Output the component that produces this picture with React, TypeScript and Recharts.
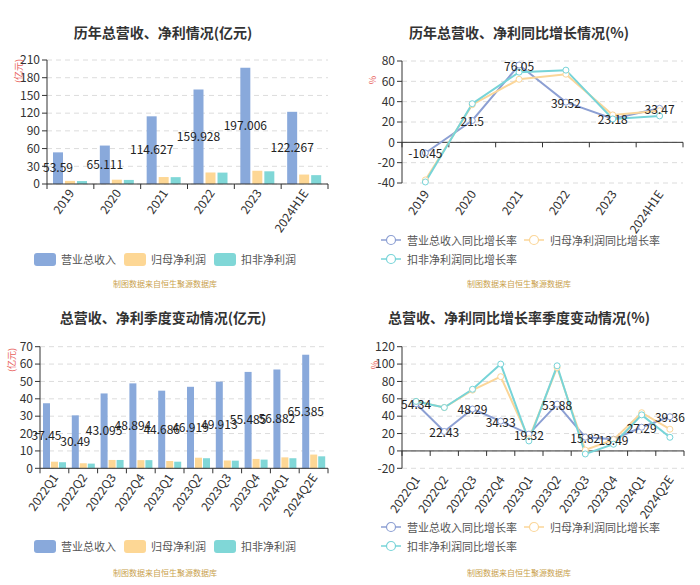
import React from "react";
import {
  BarChart,
  Bar,
  LineChart,
  Line,
  XAxis,
  YAxis,
  CartesianGrid,
  ReferenceLine,
  LabelList,
} from "recharts";

// annual
const years = ["2019", "2020", "2021", "2022", "2023", "2024H1E"];
const yearRevenue = [53.59, 65.111, 114.627, 159.928, 197.006, 122.267];
const yearNetProfit = [5.3, 7.3, 11.8, 19.5, 22.5, 16];
const yearDeducted = [5, 6.9, 11.6, 19.3, 21.5, 15];
const yearRevenueGrowth = [-10.45, 21.5, 76.05, 39.52, 23.18, 33.47];
const yearProfitGrowth = [-37, 37, 62, 67, 27, 31];
const yearDeductedGrowth = [-39, 38, 69, 71, 23, 26];

// quarterly
const quarters = ["2022Q1", "2022Q2", "2022Q3", "2022Q4", "2023Q1", "2023Q2", "2023Q3", "2023Q4", "2024Q1", "2024Q2E"];
const qRevenue = [37.45, 30.49, 43.095, 48.894, 44.686, 46.919, 49.913, 55.485, 56.882, 65.385];
const qNetProfit = [3.8, 2.9, 4.8, 4.7, 4.2, 6.1, 4.5, 5.4, 6.3, 7.9];
const qDeducted = [3.5, 2.7, 4.8, 4.7, 3.8, 5.8, 4.4, 5.0, 5.8, 6.9];
const qRevenueGrowth = [54.34, 22.43, 48.29, 34.33, 19.32, 53.88, 15.82, 13.49, 27.29, 39.36];
const qProfitGrowth = [57, 50, 70, 85.5, 14, 96, 1, 13, 44, 25];
const qDeductedGrowth = [57, 50, 71, 100, 11.5, 98, -3.5, 7.7, 41.5, 15.7];

const yearAmountTicks = [0, 30, 60, 90, 120, 150, 180, 210];
const yearGrowthTicks = [-40, -20, 0, 20, 40, 60, 80];
const qAmountTicks = [0, 10, 20, 30, 40, 50, 60, 70];
const qGrowthTicks = [-20, 0, 20, 40, 60, 80, 100, 120];

const barNames = ["营业总收入", "归母净利润", "扣非净利润"];
const lineNames = ["营业总收入同比增长率", "归母净利润同比增长率", "扣非净利润同比增长率"];
const barColors = ["#89a9db", "#fdd795", "#80d7d7"];
const lineColors = ["#8c9fd3", "#fbd699", "#77d4d8"];

const FONT = '"Noto Sans CJK SC", "Noto Sans", sans-serif';

const yearData = years.map((name, i) => ({
  name,
  rev: yearRevenue[i],
  profit: yearNetProfit[i],
  ded: yearDeducted[i],
  revG: yearRevenueGrowth[i],
  profitG: yearProfitGrowth[i],
  dedG: yearDeductedGrowth[i],
}));

const quarterData = quarters.map((name, i) => ({
  name,
  rev: qRevenue[i],
  profit: qNetProfit[i],
  ded: qDeducted[i],
  revG: qRevenueGrowth[i],
  profitG: qProfitGrowth[i],
  dedG: qDeductedGrowth[i],
}));

// x axis line with category-boundary ticks, drawn on the zero line
const axisShape = (count: number) => (props: any) => {
  const left = Math.min(props.x1, props.x2);
  const right = Math.max(props.x1, props.x2);
  const y = props.y1;
  const step = (right - left) / count;
  return (
    <g>
      <line x1={left} x2={right} y1={y} y2={y} stroke="#333" strokeWidth={1} />
      {Array.from({ length: count + 1 }).map((_, i) => (
        <line key={i} x1={left + i * step} x2={left + i * step} y1={y} y2={y + 5} stroke="#333" />
      ))}
    </g>
  );
};

const RotTick = (props: any) => {
  const { x, y, payload } = props;
  return (
    <g transform={`translate(${x},${y})`}>
      <text
        textAnchor="end"
        dominantBaseline="central"
        transform="rotate(-55)"
        fontSize={12}
        fill="#333"
        fontFamily={FONT}
      >
        {payload.value}
      </text>
    </g>
  );
};

const centerLabel = (p: any) => {
  const x = p.x ?? p.viewBox?.x;
  const y = p.y ?? p.viewBox?.y;
  if (x == null || y == null) return null;
  return (
    <text
      key={`lbl-${p.index}`}
      x={x}
      y={y}
      textAnchor="middle"
      dominantBaseline="central"
      fontSize={12}
      fill="#222"
      fontFamily={FONT}
    >
      {p.value}
    </text>
  );
};

const yTick = { fill: "#333", fontSize: 12, fontFamily: FONT };

function Title({ text, cx, cy }: { text: string; cx: number; cy: number }) {
  return (
    <div
      style={{
        position: "absolute",
        left: cx - 175,
        width: 350,
        top: cy - 10,
        lineHeight: "20px",
        textAlign: "center",
        fontSize: 14,
        fontWeight: "bold",
        color: "#333",
      }}
    >
      {text}
    </div>
  );
}

function Source({ cx, cy }: { cx: number; cy: number }) {
  return (
    <div
      style={{
        position: "absolute",
        left: cx - 100,
        width: 200,
        top: cy - 6,
        lineHeight: "12px",
        textAlign: "center",
        fontSize: 8,
        color: "#c99f4c",
      }}
    >
      制图数据来自恒生聚源数据库
    </div>
  );
}

function Unit({ text, cx, cy }: { text: string; cx: number; cy: number }) {
  return (
    <div
      style={{
        position: "absolute",
        left: cx,
        top: cy,
        transform: "translate(-50%, -50%) rotate(-90deg)",
        fontSize: 9,
        color: "#e8605a",
        whiteSpace: "nowrap",
        lineHeight: "10px",
      }}
    >
      {text}
    </div>
  );
}

function BarLegend({ left, cy }: { left: number; cy: number }) {
  return (
    <div
      style={{
        position: "absolute",
        left,
        top: cy - 8,
        height: 16,
        display: "flex",
        alignItems: "center",
        fontSize: 11,
        color: "#555",
        whiteSpace: "nowrap",
      }}
    >
      {barNames.map((n, i) => (
        <div key={n} style={{ display: "flex", alignItems: "center", marginRight: 8 }}>
          <div style={{ width: 22, height: 13, borderRadius: 3, background: barColors[i], marginRight: 5 }} />
          <span>{n}</span>
        </div>
      ))}
    </div>
  );
}

function LineItem({ i, left, cy }: { i: number; left: number; cy: number }) {
  return (
    <div
      style={{
        position: "absolute",
        left,
        top: cy - 8,
        height: 16,
        display: "flex",
        alignItems: "center",
        fontSize: 11,
        color: "#555",
        whiteSpace: "nowrap",
      }}
    >
      <svg width={20} height={12} style={{ marginRight: 6 }}>
        <line x1={0} x2={20} y1={6} y2={6} stroke={lineColors[i]} strokeWidth={1.5} />
        <circle cx={10} cy={6} r={4.5} fill="#fff" stroke={lineColors[i]} strokeWidth={1.2} />
      </svg>
      <span>{lineNames[i]}</span>
    </div>
  );
}

function LineLegend({ row1, row2 }: { row1: number; row2: number }) {
  return (
    <>
      <LineItem i={0} left={381} cy={row1} />
      <LineItem i={1} left={524} cy={row1} />
      <LineItem i={2} left={381} cy={row2} />
    </>
  );
}

export default function App() {
  const dotStyle = (c: string) => ({ r: 3, fill: "#fff", stroke: c, strokeWidth: 1 });
  return (
    <div
      style={{
        position: "absolute",
        left: 0,
        top: 0,
        width: 700,
        height: 585,
        background: "#fff",
        fontFamily: FONT,
        overflow: "hidden",
      }}
    >
      <Title text="历年总营收、净利情况(亿元)" cx={163} cy={32} />
      <Title text="历年总营收、净利同比增长情况(%)" cx={519} cy={32} />
      <Title text="总营收、净利季度变动情况(亿元)" cx={163} cy={317} />
      <Title text="总营收、净利同比增长率季度变动情况(%)" cx={519} cy={317} />

      <Unit text="(亿元)" cx={19} cy={71} />
      <Unit text="%" cx={373} cy={80} />
      <Unit text="(亿元)" cx={12} cy={360} />
      <Unit text="%" cx={375} cy={365} />

      {/* annual amounts */}
      <div style={{ position: "absolute", left: 0, top: 0 }}>
        <BarChart
          width={350}
          height={240}
          data={yearData}
          margin={{ top: 60, right: 22, left: 0, bottom: 0 }}
          barSize={10}
          barGap={2}
        >
          <CartesianGrid vertical={false} stroke="#dcdcdc" strokeDasharray="5 4" />
          <XAxis
            dataKey="name"
            interval={0}
            height={56}
            axisLine={false}
            tickLine={false}
            tickSize={0}
            tickMargin={6}
            tick={<RotTick />}
          />
          <YAxis
            domain={[0, 210]}
            ticks={yearAmountTicks}
            interval={0}
            width={47}
            tick={yTick}
            axisLine={{ stroke: "#333" }}
            tickLine={{ stroke: "#333" }}
            tickSize={5}
            tickMargin={2}
          />
          <Bar dataKey="rev" fill={barColors[0]} isAnimationActive={false}>
            <LabelList dataKey="rev" position="center" fill="#222" fontSize={12} />
          </Bar>
          <Bar dataKey="profit" fill={barColors[1]} isAnimationActive={false} />
          <Bar dataKey="ded" fill={barColors[2]} isAnimationActive={false} />
          <ReferenceLine y={0} shape={axisShape(years.length)} />
        </BarChart>
      </div>

      {/* annual growth */}
      <div style={{ position: "absolute", left: 350, top: 0 }}>
        <LineChart
          width={350}
          height={240}
          data={yearData}
          margin={{ top: 61, right: 17, left: 0, bottom: 0 }}
        >
          <CartesianGrid vertical={false} stroke="#dcdcdc" strokeDasharray="5 4" />
          <XAxis
            dataKey="name"
            interval={0}
            height={57}
            padding={{ left: 23.4, right: 23.4 }}
            axisLine={false}
            tickLine={false}
            tickSize={0}
            tickMargin={8}
            tick={<RotTick />}
          />
          <YAxis
            domain={[-40, 80]}
            ticks={yearGrowthTicks}
            interval={0}
            width={52}
            tick={yTick}
            axisLine={{ stroke: "#333" }}
            tickLine={{ stroke: "#333" }}
            tickSize={5}
            tickMargin={2}
          />
          <ReferenceLine y={0} shape={axisShape(years.length)} />
          <Line dataKey="revG" stroke={lineColors[0]} strokeWidth={2} dot={dotStyle(lineColors[0])} isAnimationActive={false} />
          <Line dataKey="profitG" stroke={lineColors[1]} strokeWidth={2} dot={dotStyle(lineColors[1])} isAnimationActive={false} />
          <Line dataKey="dedG" stroke={lineColors[2]} strokeWidth={2} dot={dotStyle(lineColors[2])} isAnimationActive={false} />
          <Line dataKey="revG" stroke="none" dot={false} activeDot={false} legendType="none" isAnimationActive={false} label={centerLabel} />
        </LineChart>
      </div>

      {/* quarterly amounts */}
      <div style={{ position: "absolute", left: 0, top: 290 }}>
        <BarChart
          width={350}
          height={240}
          data={quarterData}
          margin={{ top: 56.7, right: 22, left: 0, bottom: 0 }}
          barSize={7}
          barGap={1}
        >
          <CartesianGrid vertical={false} stroke="#dcdcdc" strokeDasharray="5 4" />
          <XAxis
            dataKey="name"
            interval={0}
            height={61.7}
            axisLine={false}
            tickLine={false}
            tickSize={0}
            tickMargin={6}
            tick={<RotTick />}
          />
          <YAxis
            domain={[0, 70]}
            ticks={qAmountTicks}
            interval={0}
            width={40}
            tick={yTick}
            axisLine={{ stroke: "#333" }}
            tickLine={{ stroke: "#333" }}
            tickSize={5}
            tickMargin={2}
          />
          <Bar dataKey="rev" fill={barColors[0]} isAnimationActive={false}>
            <LabelList dataKey="rev" position="center" fill="#222" fontSize={12} />
          </Bar>
          <Bar dataKey="profit" fill={barColors[1]} isAnimationActive={false} />
          <Bar dataKey="ded" fill={barColors[2]} isAnimationActive={false} />
          <ReferenceLine y={0} shape={axisShape(quarters.length)} />
        </BarChart>
      </div>

      {/* quarterly growth */}
      <div style={{ position: "absolute", left: 350, top: 290 }}>
        <LineChart
          width={350}
          height={240}
          data={quarterData}
          margin={{ top: 56.7, right: 16, left: 0, bottom: 0 }}
        >
          <CartesianGrid vertical={false} stroke="#dcdcdc" strokeDasharray="5 4" />
          <XAxis
            dataKey="name"
            interval={0}
            height={61.7}
            padding={{ left: 14.1, right: 14.1 }}
            axisLine={false}
            tickLine={false}
            tickSize={0}
            tickMargin={8}
            tick={<RotTick />}
          />
          <YAxis
            domain={[-20, 120]}
            ticks={qGrowthTicks}
            interval={0}
            width={52}
            tick={yTick}
            axisLine={{ stroke: "#333" }}
            tickLine={{ stroke: "#333" }}
            tickSize={5}
            tickMargin={2}
          />
          <ReferenceLine y={0} shape={axisShape(quarters.length)} />
          <Line dataKey="revG" stroke={lineColors[0]} strokeWidth={2} dot={dotStyle(lineColors[0])} isAnimationActive={false} />
          <Line dataKey="profitG" stroke={lineColors[1]} strokeWidth={2} dot={dotStyle(lineColors[1])} isAnimationActive={false} />
          <Line dataKey="dedG" stroke={lineColors[2]} strokeWidth={2} dot={dotStyle(lineColors[2])} isAnimationActive={false} />
          <Line dataKey="revG" stroke="none" dot={false} activeDot={false} legendType="none" isAnimationActive={false} label={centerLabel} />
        </LineChart>
      </div>

      <BarLegend left={34} cy={259} />
      <LineLegend row1={240} row2={259} />
      <BarLegend left={34} cy={546} />
      <LineLegend row1={527} row2={546} />

      <Source cx={165} cy={284} />
      <Source cx={519} cy={284} />
      <Source cx={165} cy={573} />
      <Source cx={519} cy={573} />
    </div>
  );
}
